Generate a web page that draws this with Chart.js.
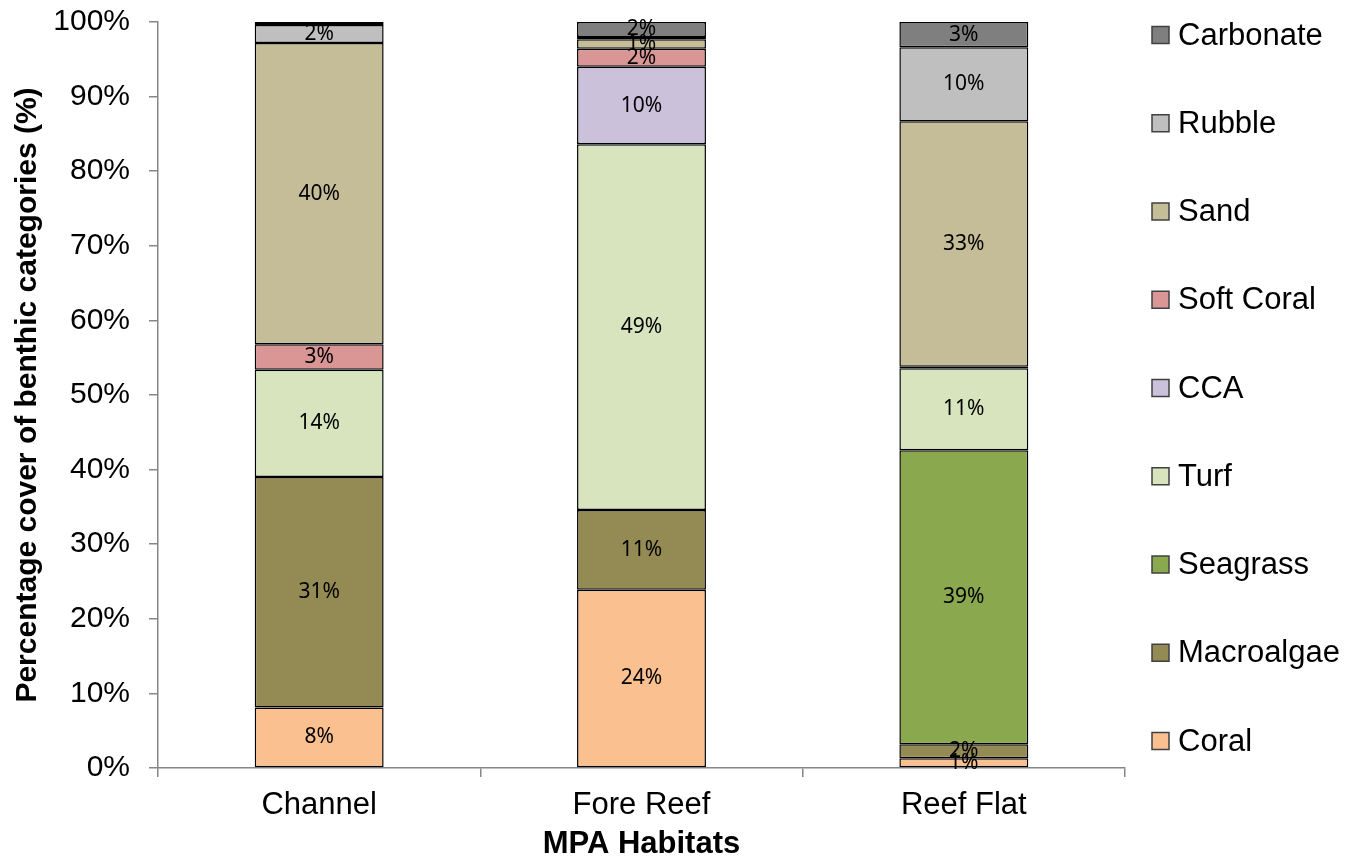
<!DOCTYPE html>
<html>
<head>
<meta charset="utf-8">
<script src="https://cdn.jsdelivr.net/npm/chart.js@4"></script>
<style>
  html, body { margin: 0; padding: 0; background: #fff; }
  #wrap { width: 1355px; height: 865px; position: relative; }
</style>
</head>
<body>
<div id="wrap"><canvas id="chart" width="1355" height="865"></canvas></div>
<script>
// categories and series (percent cover)
const habitats = ['Channel', 'Fore Reef', 'Reef Flat'];
const seriesNames = ['Coral', 'Macroalgae', 'Seagrass', 'Turf', 'CCA', 'Soft Coral', 'Sand', 'Rubble', 'Carbonate'];
const coral      = [8.1, 23.9, 1.3];
const macroalgae = [30.9, 10.7, 1.9];
const seagrass   = [0, 0, 39.4];
const turf       = [14.4, 49.0, 11.0];
const cca        = [0, 10.4, 0];
const softCoral  = [3.4, 2.4, 0.2];
const sand       = [40.4, 1.3, 32.9];
const rubble     = [2.4, 0.3, 9.9];
const carbonate  = [0.4, 2.0, 3.4];
const yTicks     = [0, 10, 20, 30, 40, 50, 60, 70, 80, 90, 100];

const seriesValues = [coral, macroalgae, seagrass, turf, cca, softCoral, sand, rubble, carbonate];
const seriesColors = ['#FAC090', '#948A54', '#8AA84E', '#D7E4BD', '#CCC1DA', '#D99694', '#C4BD97', '#BFBFBF', '#7F7F7F'];

const AXIS_GREY = '#868686';
const FONT = '"Liberation Sans", Arial, sans-serif';

// --- value labels in the middle of each segment ---
const segmentLabels = {
  id: 'segmentLabels',
  afterDatasetsDraw(chart) {
    const ctx = chart.ctx;
    ctx.save();
    ctx.font = '21px "Noto Sans", "DejaVu Sans", sans-serif';
    ctx.fillStyle = '#000';
    ctx.textAlign = 'center';
    ctx.textBaseline = 'middle';
    chart.data.datasets.forEach((ds, di) => {
      const meta = chart.getDatasetMeta(di);
      meta.data.forEach((bar, i) => {
        const v = ds.data[i];
        if (v == null || v < 0.5) return;
        ctx.fillText(Math.round(v) + '%', bar.x, (bar.y + bar.base) / 2);
      });
    });
    ctx.restore();
  }
};

// --- legend on the right, reversed like Excel ---
const sideLegend = {
  id: 'sideLegend',
  afterDraw(chart) {
    const ctx = chart.ctx;
    const items = chart.data.datasets.slice().reverse();
    const x0 = 1152, y0 = 35, step = 88.25, box = 17;
    ctx.save();
    ctx.font = '31px ' + FONT;
    ctx.textBaseline = 'middle';
    ctx.textAlign = 'left';
    items.forEach((ds, i) => {
      const cy = y0 + i * step;
      ctx.fillStyle = ds.backgroundColor;
      ctx.fillRect(x0, cy - box / 2, box, box);
      ctx.strokeStyle = '#404040';
      ctx.lineWidth = 1.5;
      ctx.strokeRect(x0, cy - box / 2, box, box);
      ctx.fillStyle = '#000';
      ctx.fillText(ds.label, x0 + 26, cy + 1);
    });
    ctx.restore();
  }
};

const datasets = seriesNames.map((name, k) => ({
  label: name,
  data: seriesValues[k],
  backgroundColor: seriesColors[k],
  borderColor: '#000',
  borderWidth: 1.5,
  borderSkipped: false,
  categoryPercentage: 1.0,
  barPercentage: 0.4
}));

new Chart(document.getElementById('chart').getContext('2d'), {
  type: 'bar',
  data: { labels: habitats, datasets: datasets },
  options: {
    responsive: false,
    animation: false,
    devicePixelRatio: 1,
    layout: { padding: { top: 22, right: 230, bottom: 0, left: 0 } },
    plugins: {
      legend: { display: false },
      tooltip: { enabled: false }
    },
    scales: {
      x: {
        stacked: true,
        grid: { display: true, drawOnChartArea: false, color: AXIS_GREY, lineWidth: 1.5, tickLength: 9, offset: true },
        border: { color: AXIS_GREY, width: 1.5 },
        ticks: { color: '#000', padding: 10, font: { family: FONT, size: 31 } },
        title: {
          display: true, text: 'MPA Habitats', color: '#000',
          font: { family: FONT, size: 31, weight: 'bold' },
          padding: { top: 0, bottom: 2 }
        },
        afterFit(scale) { scale.height = 97; scale.paddingLeft = 0; scale.paddingRight = 0; }
      },
      y: {
        stacked: true,
        min: 0, max: 100,
        afterBuildTicks(scale) { scale.ticks = yTicks.map(v => ({ value: v })); },
        grid: { display: true, drawOnChartArea: false, color: AXIS_GREY, lineWidth: 1.5, tickLength: 9 },
        border: { color: AXIS_GREY, width: 1.5 },
        ticks: {
          color: '#000', padding: 19,
          font: { family: FONT, size: 30 },
          callback: v => v + '%'
        },
        title: {
          display: true, text: 'Percentage cover of benthic categories (%)', color: '#000',
          font: { family: FONT, size: 30, weight: 'bold' },
          padding: { top: 10, bottom: 0 }
        },
        afterFit(scale) { scale.width = 158; scale.paddingTop = 0; scale.paddingBottom = 0; }
      }
    }
  },
  plugins: [segmentLabels, sideLegend]
});
</script>
</body>
</html>
